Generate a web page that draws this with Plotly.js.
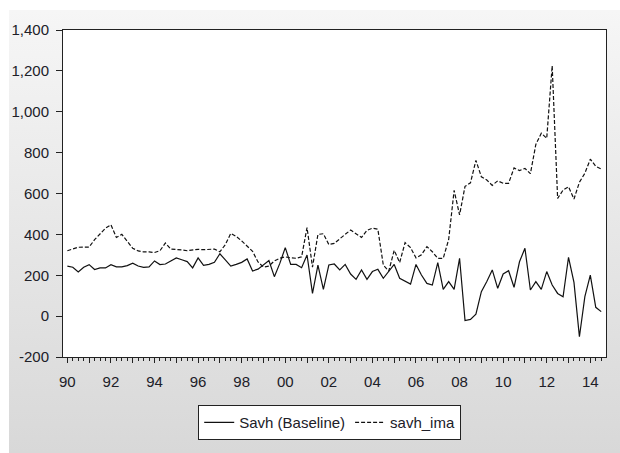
<!DOCTYPE html>
<html>
<head>
<meta charset="utf-8">
<script src="https://cdn.plot.ly/plotly-3.0.1.min.js"></script>
<style>
  html, body { margin: 0; padding: 0; background: #ffffff; }
  #frame {
    position: absolute; left: 9px; top: 10px; width: 611px; height: 443px;
    background: linear-gradient(#f6f6f6, #d8d8d8);
  }
  #chart { position: absolute; left: 0; top: 0; width: 620px; height: 453px; }
</style>
</head>
<body>
<div id="frame"></div>
<div id="chart"></div>
<script>
// ── Colours ──────────────────────────────────────────────────
const C = {
  ink:    '#111111',
  text:   '#202028',
  border: '#222222',
  plotBg: '#ffffff',
};

// ── Data (quarterly, 1990Q1 – 2014Q3) ────────────────────────
const START_YEAR = 1990;

const SAVH_BASELINE = [
  245, 239, 216, 239, 252, 228, 236, 236, 252, 241,
  241, 247, 259, 245, 239, 241, 270, 252, 255, 268,
  285, 276, 267, 236, 285, 249, 253, 263, 305, 275,
  245, 253, 263, 280, 221, 230, 250, 272, 193, 258,
  335, 253, 253, 237, 299, 111, 250, 131, 250, 255,
  226, 253, 206, 180, 226, 180, 218, 229, 185, 221,
  253, 185, 169, 157, 253, 201, 160, 152, 262, 131,
  169, 131, 283, -22, -16,  10, 120, 169, 226, 136,
  206, 222, 141, 266, 332, 128, 169, 131, 218, 152,
  111,  95, 288, 165, -101, 95, 201,  43,  22,
];

const SAVH_IMA = [
  320, 330, 337, 338, 338, 374, 403, 430, 447, 385,
  400, 368, 332, 319, 314, 314, 311, 320, 358, 328,
  327, 324, 320, 324, 327, 325, 325, 328, 315, 350,
  405, 390, 368, 342, 317, 265, 240, 245, 270, 283,
  290, 285, 283, 290, 433, 240, 400, 403, 350, 356,
  376, 400, 421, 405, 385, 420, 430, 425, 250, 220,
  322, 262, 360, 335, 285, 300, 340, 315, 283, 283,
  375, 615, 495, 635, 652, 762, 682, 666, 640, 662,
  650, 650, 725, 712, 723, 697, 840, 895, 870, 1225,
  576, 617, 633, 573, 655, 699, 768, 733, 720,
];

const SERIES_NAMES = ['Savh (Baseline)', 'savh_ima'];

const Y_TICKS = [-200, 0, 200, 400, 600, 800, 1000, 1200, 1400];
const X_YEARS = [
  1990, 1991, 1992, 1993, 1994, 1995, 1996, 1997, 1998, 1999, 2000, 2001, 2002,
  2003, 2004, 2005, 2006, 2007, 2008, 2009, 2010, 2011, 2012, 2013, 2014,
];

// ── Helpers ──────────────────────────────────────────────────
// quarter index -> fractional year (1990Q1 = 1990.00)
const quarterTimes = (n) => Array.from({ length: n }, (_, i) => START_YEAR + i / 4);

// EViews style: "1,400", plain hyphen for negatives
function fmtTick(v) {
  const s = Math.abs(v).toString().replace(/\B(?=(\d{3})+(?!\d))/g, ',');
  return (v < 0 ? '-' : '') + s;
}

// two-digit year on even years only
const yearLabel = (y) => (y % 2 === 0 ? String(y % 100).padStart(2, '0') : '');

const FONT = { family: '"Liberation Sans", Arial, sans-serif', size: 15, color: C.text };

// ── Traces ───────────────────────────────────────────────────
const t = quarterTimes(SAVH_BASELINE.length);

const traces = [
  {
    type: 'scatter', mode: 'lines', name: SERIES_NAMES[0],
    x: t, y: SAVH_BASELINE,
    line: { color: C.ink, width: 1.2 },
  },
  {
    type: 'scatter', mode: 'lines', name: SERIES_NAMES[1],
    x: quarterTimes(SAVH_IMA.length), y: SAVH_IMA,
    line: { color: C.ink, width: 1.2, dash: '4px,2px' },
  },
];

// ── Layout ───────────────────────────────────────────────────
const layout = {
  width: 620,
  height: 453,
  paper_bgcolor: 'rgba(0,0,0,0)',
  plot_bgcolor: C.plotBg,
  font: FONT,
  showlegend: true,
  margin: { t: 30, r: 14, b: 96, l: 63, pad: 0 },
  xaxis: {
    range: [1989.8, 2014.72],
    tickvals: X_YEARS,
    ticktext: X_YEARS.map(yearLabel),
    ticks: 'outside', ticklen: 5, tickwidth: 1, tickcolor: C.border,
    minor: { dtick: 0.25, tick0: 1990, ticks: 'outside', ticklen: 3, tickcolor: C.border, showgrid: false },
    ticklabelstandoff: 6,
    showline: true, mirror: true, linecolor: C.border, linewidth: 1,
    showgrid: false, zeroline: false,
    tickfont: FONT,
  },
  yaxis: {
    range: [-200, 1400],
    tickvals: Y_TICKS,
    ticktext: Y_TICKS.map(fmtTick),
    ticks: 'outside', ticklen: 6, tickwidth: 1, tickcolor: C.border,
    ticklabelstandoff: 4,
    showline: true, mirror: true, linecolor: C.border, linewidth: 1,
    showgrid: false, zeroline: false,
    tickfont: FONT,
  },
  legend: {
    orientation: 'h',
    x: 0.249, xanchor: 'left',
    y: -0.147, yanchor: 'top',
    bgcolor: '#ffffff',
    bordercolor: C.border,
    borderwidth: 1,
    font: FONT,
  },
};

Plotly.newPlot('chart', traces, layout, { displayModeBar: false, staticPlot: true });
</script>
</body>
</html>
